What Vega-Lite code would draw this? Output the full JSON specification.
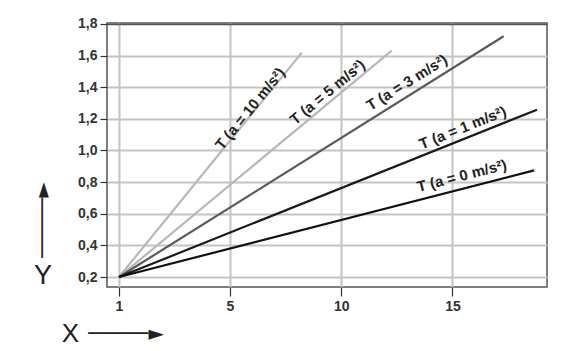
{
  "$schema": "https://vega.github.io/schema/vega-lite/v6.json",
  "width": 440,
  "height": 264,
  "autosize": "none",
  "padding": {"left": 107, "top": 23, "right": 23, "bottom": 64},
  "background": "white",
  "config": {
    "view": {"stroke": "#555", "strokeWidth": 1.5},
    "font": "Liberation Sans"
  },
  "datasets": {
    "lines": [
      {"series": "a=10", "x": 1, "y": 0.2},
      {"series": "a=10", "x": 8.23, "y": 1.619},
      {"series": "a=5", "x": 1, "y": 0.2},
      {"series": "a=5", "x": 12.27, "y": 1.631},
      {"series": "a=3", "x": 1, "y": 0.2},
      {"series": "a=3", "x": 17.3, "y": 1.722},
      {"series": "a=1", "x": 1, "y": 0.2},
      {"series": "a=1", "x": 18.8, "y": 1.258},
      {"series": "a=0", "x": 1, "y": 0.2},
      {"series": "a=0", "x": 18.67, "y": 0.874}
    ],
    "labels": [
      {"series": "a=10", "x": 5.9, "y": 1.264, "label": "T (a = 10 m/s²)"},
      {"series": "a=5", "x": 9.38, "y": 1.369, "label": "T (a = 5 m/s²)"},
      {"series": "a=3", "x": 12.95, "y": 1.43, "label": "T (a = 3 m/s²)"},
      {"series": "a=1", "x": 15.46, "y": 1.144, "label": "T (a = 1 m/s²)"},
      {"series": "a=0", "x": 15.42, "y": 0.84, "label": "T (a = 0 m/s²)"}
    ]
  },
  "layer": [
    {
      "data": {"name": "lines"},
      "mark": {"type": "line", "strokeWidth": 2.2},
      "encoding": {
        "x": {
          "field": "x", "type": "quantitative",
          "scale": {"domain": [0.5, 1, 5, 19.25], "range": [0, 12, 123, 440], "nice": false, "zero": false},
          "axis": {
            "orient": "bottom",
            "values": [1, 5, 10, 15],
            "format": "d",
            "grid": true,
            "gridColor": "#c4c4c4",
            "gridWidth": 2,
            "domain": false,
            "tickColor": "#333",
            "tickSize": 9,
            "tickWidth": 1.2,
            "labelPadding": 3,
            "labelFontSize": 14,
            "labelFontWeight": "bold",
            "labelColor": "#333",
            "title": "X",
            "titleX": -37,
            "titleY": 46,
            "titleAlign": "center",
            "titleBaseline": "middle",
            "titleFontSize": 26,
            "titleFontWeight": "normal",
            "titleColor": "#222"
          }
        },
        "y": {
          "field": "y", "type": "quantitative",
          "scale": {"domain": [0.137, 1.806], "nice": false, "zero": false},
          "axis": {
            "orient": "left",
            "values": [0.2, 0.4, 0.6, 0.8, 1.0, 1.2, 1.4, 1.6, 1.8],
            "labelExpr": "replace(format(datum.value, '.1f'), '.', ',')",
            "grid": true,
            "gridColor": {"condition": {"test": "datum.value > 1.79", "value": "#555"}, "value": "#c4c4c4"},
            "gridWidth": {"condition": {"test": "datum.value > 1.79", "value": 1.5}, "value": 2},
            "domain": false,
            "tickColor": "#333",
            "tickSize": 7,
            "tickWidth": 1.2,
            "labelPadding": 3,
            "labelFontSize": 14,
            "labelFontWeight": "bold",
            "labelColor": "#333",
            "title": "Y",
            "titleAngle": 0,
            "titleX": -64.5,
            "titleY": 252,
            "titleAlign": "center",
            "titleBaseline": "middle",
            "titleFontSize": 27,
            "titleFontWeight": "normal",
            "titleColor": "#222"
          }
        },
        "color": {
          "field": "series", "type": "nominal",
          "scale": {"domain": ["a=10", "a=5", "a=3", "a=1", "a=0"], "range": ["#b8b8b8", "#b8b8b8", "#5a5a5a", "#1a1a1a", "#111111"]},
          "legend": null
        }
      }
    },
    {
      "data": {"name": "labels"},
      "transform": [{"filter": "datum.series === 'a=10'"}],
      "mark": {"type": "text", "angle": 309.2, "fontSize": 15, "fontWeight": "bold", "color": "#222", "align": "center", "baseline": "middle"},
      "encoding": {
        "x": {
          "field": "x", "type": "quantitative",
          "scale": {"domain": [0.5, 1, 5, 19.25], "range": [0, 12, 123, 440], "nice": false, "zero": false},
          "axis": {
            "orient": "top", "labels": false, "ticks": false, "grid": false, "domain": false,
            "title": "─────►",
            "titleX": 18.5, "titleY": 310,
            "titleAlign": "center", "titleBaseline": "middle",
            "titleFont": "DejaVu Sans", "titleFontSize": 20, "titleFontWeight": "normal", "titleColor": "#222"
          }
        },
        "y": {
          "field": "y", "type": "quantitative",
          "scale": {"domain": [0.137, 1.806], "nice": false, "zero": false},
          "axis": {
            "orient": "right", "labels": false, "ticks": false, "grid": false, "domain": false,
            "title": "─────►",
            "titleAngle": 270,
            "titleX": -504.3, "titleY": 196.5,
            "titleAlign": "center", "titleBaseline": "middle",
            "titleFont": "DejaVu Sans", "titleFontSize": 20, "titleFontWeight": "normal", "titleColor": "#222"
          }
        },
        "text": {"field": "label"}
      }
    },
    {
      "data": {"name": "labels"},
      "transform": [{"filter": "datum.series === 'a=5'"}],
      "mark": {"type": "text", "angle": 320.3, "fontSize": 15, "fontWeight": "bold", "color": "#222", "align": "center", "baseline": "middle"},
      "encoding": {
        "x": {"field": "x", "type": "quantitative", "axis": null},
        "y": {"field": "y", "type": "quantitative", "axis": null},
        "text": {"field": "label"}
      }
    },
    {
      "data": {"name": "labels"},
      "transform": [{"filter": "datum.series === 'a=3'"}],
      "mark": {"type": "text", "angle": 328, "fontSize": 15, "fontWeight": "bold", "color": "#222", "align": "center", "baseline": "middle"},
      "encoding": {
        "x": {"field": "x", "type": "quantitative", "axis": null},
        "y": {"field": "y", "type": "quantitative", "axis": null},
        "text": {"field": "label"}
      }
    },
    {
      "data": {"name": "labels"},
      "transform": [{"filter": "datum.series === 'a=1'"}],
      "mark": {"type": "text", "angle": 338.2, "fontSize": 15, "fontWeight": "bold", "color": "#222", "align": "center", "baseline": "middle"},
      "encoding": {
        "x": {"field": "x", "type": "quantitative", "axis": null},
        "y": {"field": "y", "type": "quantitative", "axis": null},
        "text": {"field": "label"}
      }
    },
    {
      "data": {"name": "labels"},
      "transform": [{"filter": "datum.series === 'a=0'"}],
      "mark": {"type": "text", "angle": 345.6, "fontSize": 15, "fontWeight": "bold", "color": "#222", "align": "center", "baseline": "middle"},
      "encoding": {
        "x": {"field": "x", "type": "quantitative", "axis": null},
        "y": {"field": "y", "type": "quantitative", "axis": null},
        "text": {"field": "label"}
      }
    }
  ],
  "resolve": {"axis": {"x": "independent", "y": "independent"}}
}
